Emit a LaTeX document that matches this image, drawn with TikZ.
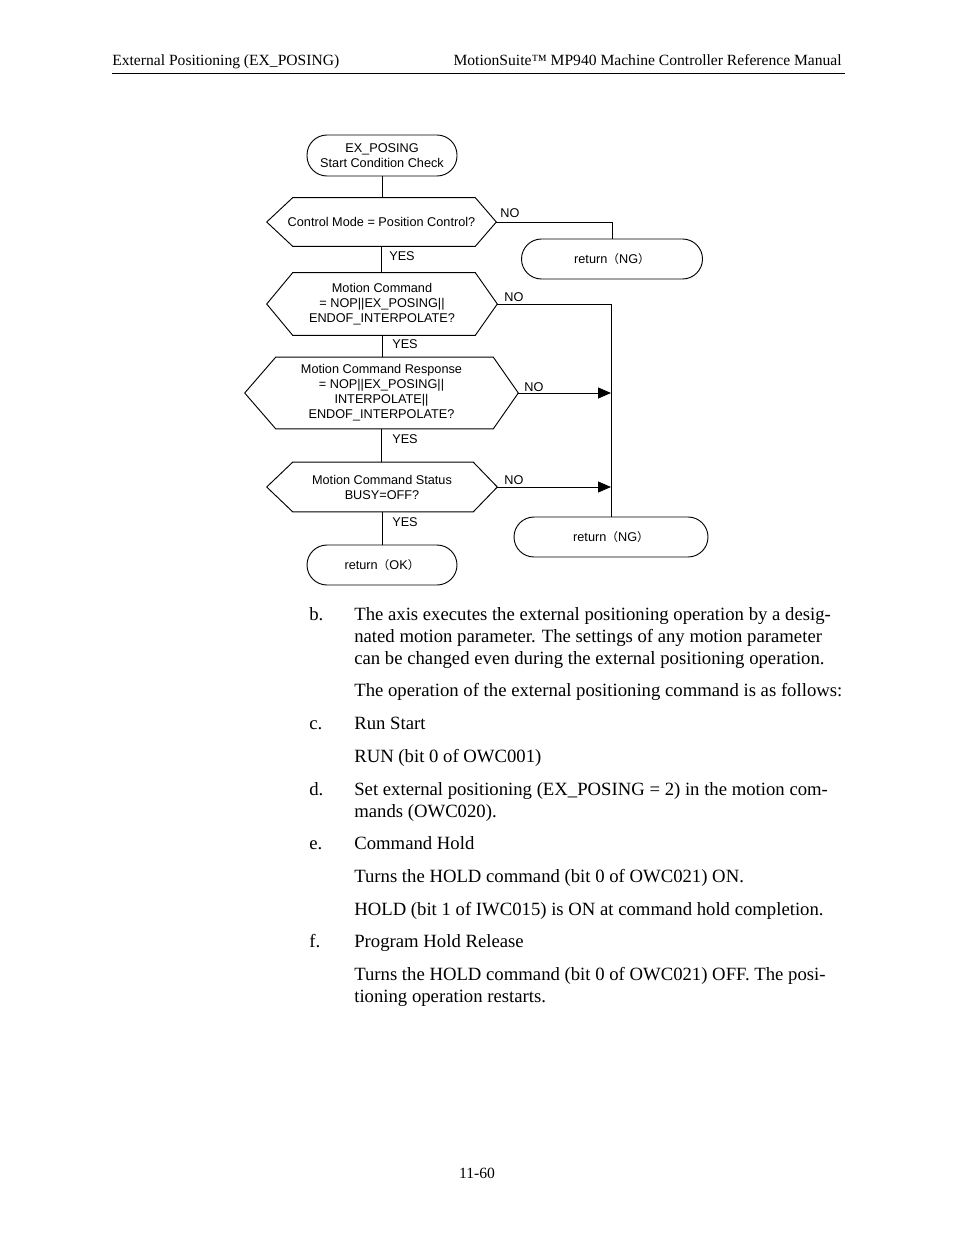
\documentclass[tikz,border=0pt]{standalone}
\usepackage{fontspec}
\setmainfont{Liberation Serif}
\newfontfamily\arial{Liberation Sans}
\newfontfamily\cjk{Noto Sans CJK JP}
\usetikzlibrary{arrows.meta,calc}
\newcommand\fcfont{\arial\fontsize{8.15}{9.6}\selectfont}
\newcommand\lp{{\cjk\fontsize{7.5}{9.6}\selectfont （}}
\newcommand\rp{{\cjk\fontsize{7.5}{9.6}\selectfont ）}}
\def\u{0.6413pt}
\newcommand\hexdraw[3]{\draw[line width=0.6pt] (#1.west) -- ([xshift=#2*\u]#1.north west) -- ([xshift=-#3*\u]#1.north east) -- (#1.east) -- ([xshift=-#3*\u]#1.south east) -- ([xshift=#2*\u]#1.south west) -- cycle;}
\begin{document}
\begin{tikzpicture}[x=0.6413pt,y=-0.6413pt,
  term/.style={draw, line width=0.6pt, rounded corners=20*\u, font=\fcfont, align=center, inner sep=0pt},
  hexnode/.style={inner sep=0pt, font=\fcfont, align=center},
  lbl/.style={font=\fcfont, inner sep=0pt},
  conn/.style={line width=0.6pt},
  arr/.style={line width=0.6pt, -{Triangle[length=13*\u, width=11*\u]}},
  body/.style={font=\fontsize{12}{14}\selectfont, inner sep=0pt, anchor=base west},
  head/.style={font=\fontsize{10}{12}\selectfont, inner sep=0pt}]
\useasboundingbox (0,0) rectangle (954,1235);

% header and footer
\node[head, anchor=base west] (hl) at (112,66) {External Positioning (EX\_POSING)};
\node[head, anchor=base east] (hr) at (842,66) {MotionSuite™ MP940 Machine Controller Reference Manual};
\coordinate (rl) at (112,73);
\coordinate (rr) at (845,73);
\draw[line width=0.6pt] (rl) -- (rr);
\node[head, anchor=base] (foot) at (477,1178) {11-60};

% flowchart nodes
\node[term, minimum width=150*\u, minimum height=41*\u] (start) at (382,155.5) {EX\_POSING\\Start Condition Check};
\node[hexnode, minimum width=229*\u, minimum height=48*\u] (h1) at (381.5,222) {Control Mode = Position Control?};
\hexdraw{h1}{26}{21}
\node[term, minimum width=181*\u, minimum height=40*\u] (ng1) at (612,259) {return\lp NG\rp};
\node[hexnode, minimum width=230*\u, minimum height=62*\u] (h2) at (382,304) {Motion Command\\= NOP||EX\_POSING||\\ENDOF\_INTERPOLATE?};
\hexdraw{h2}{26}{22}
\node[hexnode, minimum width=273*\u, minimum height=71*\u] (h3) at (381.5,393) {Motion Command Response\\= NOP||EX\_POSING||\\INTERPOLATE||\\ENDOF\_INTERPOLATE?};
\hexdraw{h3}{31}{25}
\node[hexnode, minimum width=230*\u, minimum height=49*\u] (h4) at (382,487) {Motion Command Status\\BUSY=OFF?};
\hexdraw{h4}{26}{24}
\node[term, minimum width=150*\u, minimum height=40*\u] (ok) at (382,565) {return\lp OK\rp};
\node[term, minimum width=194*\u, minimum height=40*\u] (ng2) at (611,537) {return\lp NG\rp};

% connectors
\draw[conn] (start.south) -- (start.south |- h1.north);
\draw[conn] (h1.south) -- (h1.south |- h2.north);
\draw[conn] (h2.south) -- (h2.south |- h3.north);
\draw[conn] (h3.south) -- (h3.south |- h4.north);
\draw[conn] (h4.south) -- (h4.south |- ok.north);
\draw[conn] (h1.east) -| (ng1.north);
\draw[conn] (h2.east) -| (ng2.north);
\draw[arr] (h3.east) -- (h3.east -| ng2.north);
\draw[arr] (h4.east) -- (h4.east -| ng2.north);

% labels
\node[lbl] (no1) at (510,213) {NO};
\node[lbl] (no2) at (514,297) {NO};
\node[lbl] (no3) at (534,387) {NO};
\node[lbl] (no4) at (514,480) {NO};
\node[lbl] (yes1) at (402,256) {YES};
\node[lbl] (yes2) at (405,344) {YES};
\node[lbl] (yes3) at (405,439) {YES};
\node[lbl] (yes4) at (405,522) {YES};

% body text
\node[body] (lb) at (309,620) {b.};
\node[body] (t1) at (354,620) {The axis executes the external positioning operation by a desig-};
\node[body] (t2) at (354,642) {nated motion parameter. The settings of any motion parameter};
\node[body] (t3) at (354,664) {can be changed even during the external positioning operation.};
\node[body] (t4) at (354,696) {The operation of the external positioning command is as follows:};
\node[body] (lc) at (309,729) {c.};
\node[body] (t5) at (354,729) {Run Start};
\node[body] (t6) at (354,762) {RUN (bit 0 of OWC001)};
\node[body] (ld) at (309,795) {d.};
\node[body] (t7) at (354,795) {Set external positioning (EX\_POSING = 2) in the motion com-};
\node[body] (t8) at (354,817) {mands (OWC020).};
\node[body] (le) at (309,849) {e.};
\node[body] (t9) at (354,849) {Command Hold};
\node[body] (t10) at (354,882) {Turns the HOLD command (bit 0 of OWC021) ON.};
\node[body] (t11) at (354,915) {HOLD (bit 1 of IWC015) is ON at command hold completion.};
\node[body] (lf) at (309,947) {f.};
\node[body] (t12) at (354,947) {Program Hold Release};
\node[body] (t13) at (354,980) {Turns the HOLD command (bit 0 of OWC021) OFF. The posi-};
\node[body] (t14) at (354,1002) {tioning operation restarts.};
\end{tikzpicture}
\end{document}
